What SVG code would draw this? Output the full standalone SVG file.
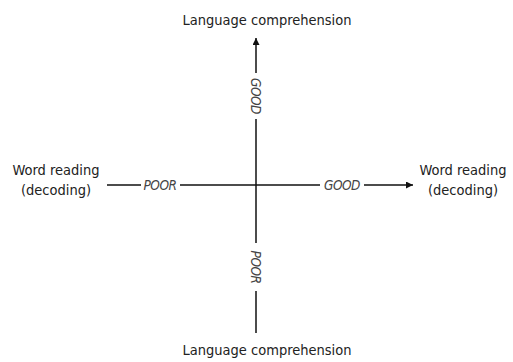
<svg xmlns="http://www.w3.org/2000/svg" width="513" height="362" viewBox="0 0 513 362">
<style>
.lbl{font-family:"DejaVu Sans Condensed","DejaVu Sans",sans-serif;font-size:14.5px;fill:#222;text-anchor:middle}
.ax{font-family:"DejaVu Sans Condensed","DejaVu Sans",sans-serif;font-size:13.5px;font-style:italic;fill:#444;text-anchor:middle;letter-spacing:-0.5px}
.ln{stroke:#111;stroke-width:1.5;fill:none}
</style>
<defs>
<marker id="arr" viewBox="0 0 10 10" refX="10" refY="5" markerWidth="7" markerHeight="7" markerUnits="userSpaceOnUse" orient="auto">
<path d="M0,0 L10,5 L0,10 z" fill="#111"/>
</marker>
</defs>
<g id="connectors">
<line class="ln" x1="256" y1="73" x2="256" y2="38" marker-end="url(#arr)"/>
<line class="ln" x1="256" y1="119" x2="256" y2="243"/>
<line class="ln" x1="256" y1="291" x2="256" y2="333"/>
<line class="ln" x1="107" y1="185" x2="141" y2="185"/>
<line class="ln" x1="180" y1="185" x2="320" y2="185"/>
<line class="ln" x1="364" y1="185" x2="413" y2="185" marker-end="url(#arr)"/>
<text class="ax" transform="translate(256,96) rotate(90)" dy="5">GOOD</text>
<text class="ax" transform="translate(256,267) rotate(90)" dy="5">POOR</text>
<text class="ax" x="160" y="190">POOR</text>
<text class="ax" x="342" y="190">GOOD</text>
</g>
<g id="top"><text class="lbl" x="267" y="25">Language comprehension</text></g>
<g id="bottom"><text class="lbl" x="267" y="355">Language comprehension</text></g>
<g id="left"><text class="lbl" x="56" y="175">Word reading</text><text class="lbl" x="56" y="195">(decoding)</text></g>
<g id="right"><text class="lbl" x="463" y="175">Word reading</text><text class="lbl" x="463" y="195">(decoding)</text></g>
</svg>
